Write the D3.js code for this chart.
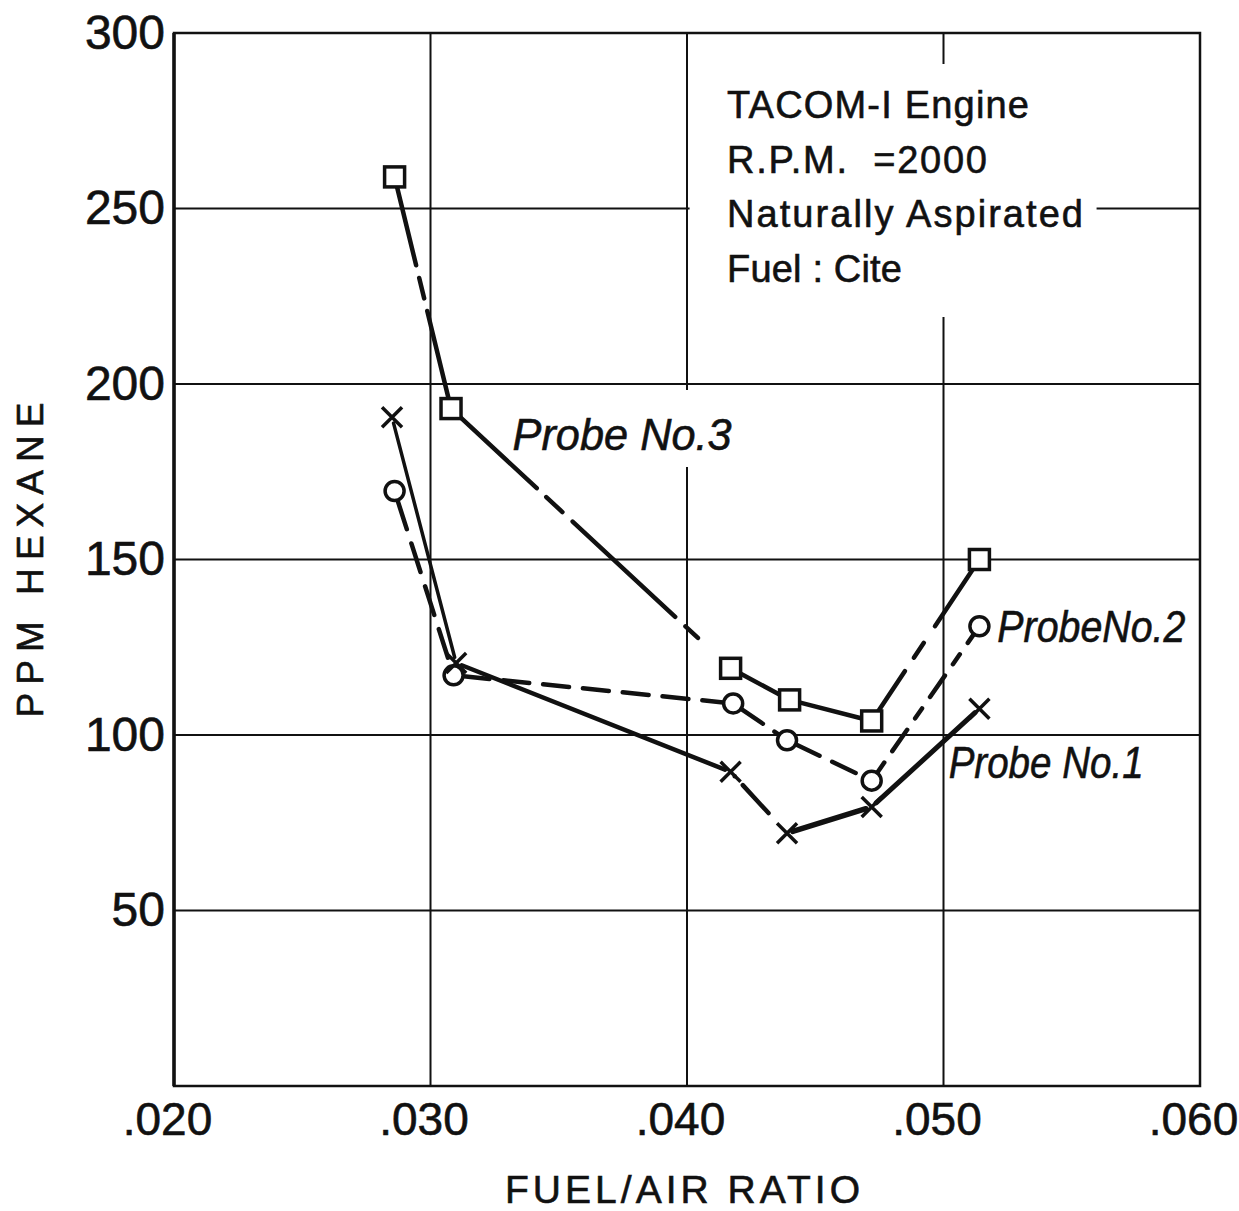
<!DOCTYPE html>
<html>
<head>
<meta charset="utf-8">
<script src="https://d3js.org/d3.v7.min.js"></script>
<style>
  body { margin: 0; background: #fff; }
  text { font-family: "Liberation Sans", Arial, sans-serif; fill: #111; stroke: #111; stroke-width: 0.6px; }
</style>
</head>
<body>
<div id="chart"></div>
<script>
// Tick values
var fuelAirTicks = [0.02, 0.03, 0.04, 0.05, 0.06];
var ppmTicks = [50, 100, 150, 200, 250, 300];
var gridX = [0.03, 0.04, 0.05];
var gridY = [50, 100, 150, 200, 250];

// Readings (fuel/air ratio, ppm hexane) per probe
var probe3Ratio = [0.0286, 0.0308, 0.0417, 0.0440, 0.0472, 0.0514];
var probe3Ppm = [259, 193, 119, 110, 104, 150];
var probe2Ratio = [0.0286, 0.0309, 0.0418, 0.0439, 0.0472, 0.0514];
var probe2Ppm = [169.5, 117, 109, 98.5, 87, 131];
var probe1Ratio = [0.0285, 0.0310, 0.0417, 0.0439, 0.0472, 0.0514];
var probe1Ppm = [190.5, 120.5, 89.5, 72, 79.5, 107.5];

var noteLines = ["TACOM-I Engine", "R.P.M.  =2000", "Naturally Aspirated", "Fuel : Cite"];

// hand drawn dash pattern of every segment (null = solid)
var probe3Dash = ["81,13,21,13,400", "107,13,22,14,140,14,17,200", null, null, "50,16,18,20,300"];
var probe2Dash = ["30,15", "26,14", "26,14", "26,14", "12,14,26,14"];
var probe1Dash = [null, null, "0,12,38,200", null, null];

var svgWidth = 1239;
var svgHeight = 1211;

var margin = {
  top: 33,
  right: 39,
  bottom: 125,
  left: 174
};

var width = svgWidth - margin.left - margin.right;
var height = svgHeight - margin.top - margin.bottom;

var svg = d3.select("#chart")
  .append("svg")
  .attr("width", svgWidth)
  .attr("height", svgHeight)
  .style("background", "#fff");

var chartGroup = svg.append("g")
  .attr("transform", `translate(${margin.left}, ${margin.top})`);

// Scales
var xLinearScale = d3.scaleLinear().domain([0.02, 0.06]).range([0, width]);
var yLinearScale = d3.scaleLinear().domain([0, 300]).range([height, 0]);

// Grid
chartGroup.selectAll(".vgrid")
  .data(gridX)
  .enter()
  .append("line")
  .attr("x1", d => xLinearScale(d))
  .attr("x2", d => xLinearScale(d))
  .attr("y1", 0)
  .attr("y2", height)
  .attr("stroke", "#111")
  .attr("stroke-width", 2);

chartGroup.selectAll(".hgrid")
  .data(gridY)
  .enter()
  .append("line")
  .attr("x1", 0)
  .attr("x2", width)
  .attr("y1", d => yLinearScale(d))
  .attr("y2", d => yLinearScale(d))
  .attr("stroke", "#111")
  .attr("stroke-width", 2);

// Frame
chartGroup.append("rect")
  .attr("x", 0)
  .attr("y", 0)
  .attr("width", width)
  .attr("height", height)
  .attr("fill", "none")
  .attr("stroke", "#111")
  .attr("stroke-width", 2.5);

chartGroup.append("line")
  .attr("x1", 0).attr("x2", 0)
  .attr("y1", 0).attr("y2", height)
  .attr("stroke", "#111")
  .attr("stroke-width", 3.5);

// Axes (labels only)
var leftAxis = d3.axisLeft(yLinearScale)
  .tickValues(ppmTicks)
  .tickSize(0)
  .tickPadding(9)
  .tickFormat(d3.format("d"));

var bottomAxis = d3.axisBottom(xLinearScale)
  .tickValues(fuelAirTicks)
  .tickSize(0)
  .tickPadding(16)
  .tickFormat(d => d3.format(".3f")(d).replace(/^0/, ""));

var yAxisG = chartGroup.append("g").call(leftAxis);
var xAxisG = chartGroup.append("g")
  .attr("transform", `translate(0, ${height})`)
  .call(bottomAxis);

[yAxisG, xAxisG].forEach(function(g) {
  g.select(".domain").remove();
  g.attr("font-family", "Liberation Sans, Arial, sans-serif")
    .attr("font-size", 48);
  g.selectAll("text").attr("fill", "#111");
});
xAxisG.attr("font-size", 46);
xAxisG.selectAll("text").attr("dx", "-7");

// Note box
var noteG = chartGroup.append("g");
noteG.append("rect")
  .attr("x", xLinearScale(0.0401))
  .attr("y", 31)
  .attr("width", 407)
  .attr("height", 253)
  .attr("fill", "#fff");

var noteWidths = [302, 260, 356, 175];
noteG.selectAll("text")
  .data(noteLines)
  .enter()
  .append("text")
  .attr("x", 553)
  .attr("y", (d, i) => 85 + i * 54.5)
  .attr("font-size", 38)
  .attr("textLength", (d, i) => noteWidths[i])
  .style("white-space", "pre")
  .text(d => d);

// Probe labels
var probeLabels = [
  { text: "Probe No.3", x: 0.0332, y: 181.2, len: 219, bg: true },
  { text: "ProbeNo.2", x: 0.0521, y: 126.5, len: 188, bg: false },
  { text: "Probe No.1", x: 0.0502, y: 87.7, len: 195, bg: false }
];

probeLabels.forEach(function(lab) {
  if (lab.bg) {
    chartGroup.append("rect")
      .attr("x", xLinearScale(lab.x) - 8)
      .attr("y", yLinearScale(lab.y) - 60)
      .attr("width", lab.len + 20)
      .attr("height", 77)
      .attr("fill", "#fff");
  }
  chartGroup.append("text")
    .attr("x", xLinearScale(lab.x))
    .attr("y", yLinearScale(lab.y))
    .attr("font-size", 45)
    .attr("font-style", "italic")
    .attr("textLength", lab.len)
    .attr("lengthAdjust", "spacingAndGlyphs")
    .text(lab.text);
});

// Lines and markers
var series = [
  { x: probe3Ratio, y: probe3Ppm, marker: "square", dash: probe3Dash, trim: 10, widths: [4.5, 4.5, 4.5, 4.5, 4.5] },
  { x: probe2Ratio, y: probe2Ppm, marker: "circle", dash: probe2Dash, trim: 10, widths: [4.5, 4.5, 4.5, 4.5, 4.5] },
  { x: probe1Ratio, y: probe1Ppm, marker: "cross", dash: probe1Dash, trim: 6, widths: [3.5, 4.5, 4.5, 5.5, 5] }
];

series.forEach(function(s) {
  var pts = s.x.map((v, i) => [xLinearScale(v), yLinearScale(s.y[i])]);

  for (var i = 0; i < pts.length - 1; i++) {
    var a = pts[i], b = pts[i + 1];
    var dx = b[0] - a[0], dy = b[1] - a[1];
    var len = Math.sqrt(dx * dx + dy * dy);
    var ux = dx / len, uy = dy / len;
    chartGroup.append("line")
      .attr("x1", a[0] + ux * s.trim)
      .attr("y1", a[1] + uy * s.trim)
      .attr("x2", b[0] - ux * s.trim)
      .attr("y2", b[1] - uy * s.trim)
      .attr("stroke", "#111")
      .attr("stroke-width", s.widths[i])
      .attr("stroke-linecap", "round")
      .attr("stroke-dasharray", s.dash[i]);
  }

  var mk = chartGroup.selectAll(null)
    .data(pts)
    .enter()
    .append("g")
    .attr("transform", d => `translate(${d[0]}, ${d[1]})`);

  if (s.marker == "square") {
    mk.append("rect")
      .attr("x", -10).attr("y", -10)
      .attr("width", 20).attr("height", 20)
      .attr("fill", "#fff")
      .attr("stroke", "#111")
      .attr("stroke-width", 3.5);
  } else if (s.marker == "circle") {
    mk.append("circle")
      .attr("r", 9.5)
      .attr("fill", "#fff")
      .attr("stroke", "#111")
      .attr("stroke-width", 3.5);
  } else {
    mk.append("path")
      .attr("d", "M-10,-10L10,10M-10,10L10,-10")
      .attr("fill", "none")
      .attr("stroke", "#111")
      .attr("stroke-width", 3.5);
  }
});

// Axis titles
svg.append("text")
  .attr("transform", "translate(43, 560) rotate(-90)")
  .attr("text-anchor", "middle")
  .attr("font-size", 37)
  .attr("textLength", 315)
  .text("PPM  HEXANE");

svg.append("text")
  .attr("x", 505)
  .attr("y", 1203)
  .attr("font-size", 39)
  .attr("textLength", 355)
  .text("FUEL/AIR RATIO");
</script>
</body>
</html>
